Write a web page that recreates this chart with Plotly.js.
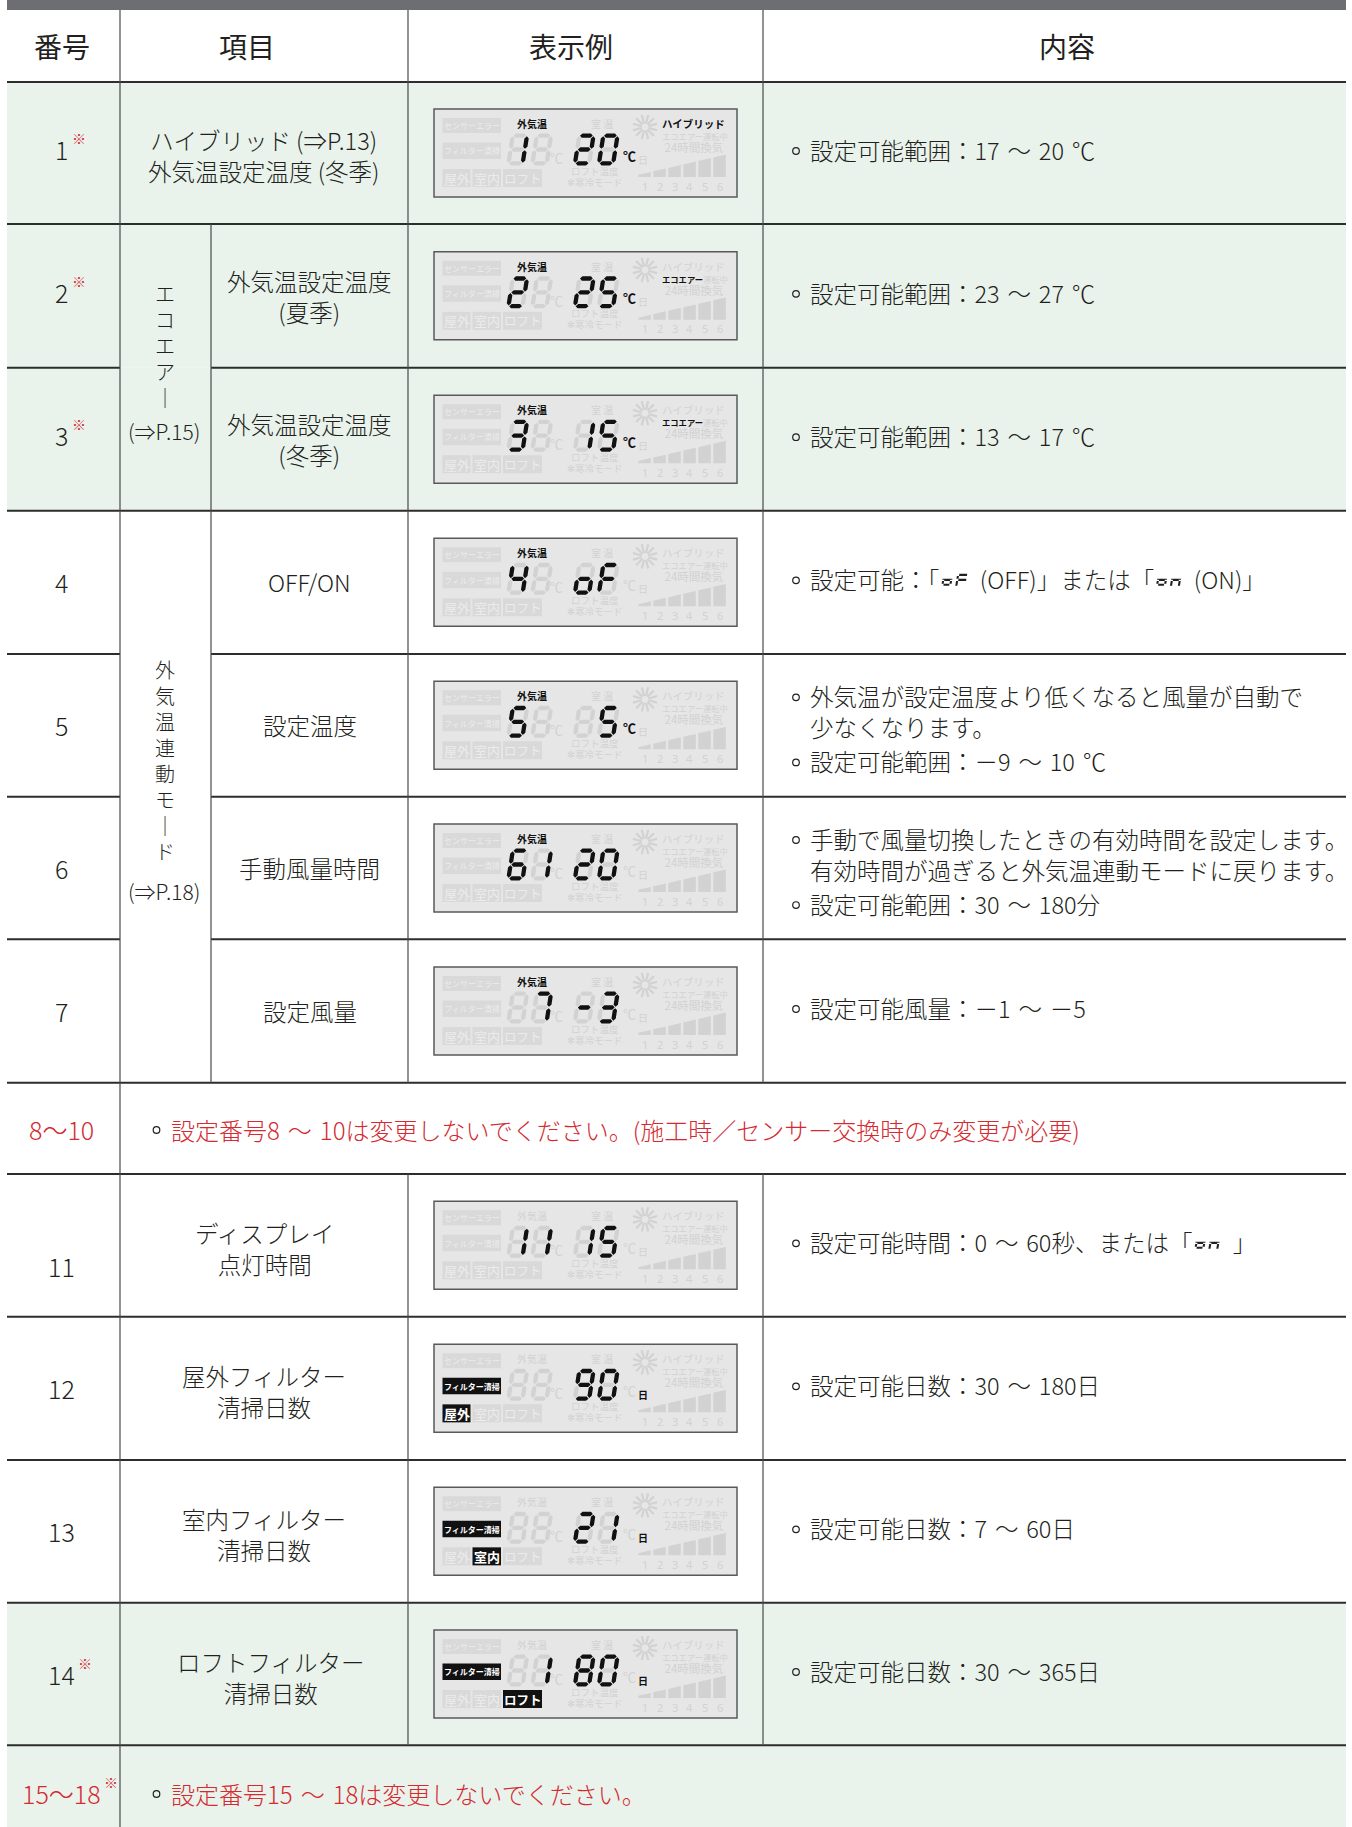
<!DOCTYPE html>
<html><head><meta charset="utf-8">
<script src="https://cdn.plot.ly/plotly-3.0.1.min.js"></script>
<style>html,body{margin:0;padding:0;background:#fff;overflow:hidden}</style>
</head><body>
<div id="chart" style="width:1352px;height:1827px"></div>
<script>
// ---------------- DATA ----------------
const headers = ['番号', '項目', '表示例', '内容'];
const rowNumbers = ['1', '2', '3', '4', '5', '6', '7', '8～10', '11', '12', '13', '14', '15～18'];
const rowNote = [1, 1, 1, 0, 0, 0, 0, 0, 0, 0, 0, 1, 1];          // ※ marks
const groupLabels = ['エコエアー', '外気温連動モード'];
const groupRefs = ['(⇒P.15)', '(⇒P.18)'];
const itemLabels = [
  ['ハイブリッド (⇒P.13)', '外気温設定温度 (冬季)'],
  ['外気温設定温度', '(夏季)'],
  ['外気温設定温度', '(冬季)'],
  ['OFF/ON'],
  ['設定温度'],
  ['手動風量時間'],
  ['設定風量'],
  null,
  ['ディスプレイ', '点灯時間'],
  ['屋外フィルター', '清掃日数'],
  ['室内フィルター', '清掃日数'],
  ['ロフトフィルター', '清掃日数'],
  null
];
const lcdDigits = ['1 20', '2 25', '3 15', '4 oF', '5  5', '6120', ' 7-3', null, '1115', '  90', '  21', ' 180', null];
const lcdUnit   = ['℃', '℃', '℃', '', '℃', '', '', null, '', '日', '日', '日', null];
const lcdOutside = [1, 1, 1, 1, 1, 1, 1, null, 0, 0, 0, 0, null];
const lcdMode   = ['ハイブリッド', 'エコエアー', 'エコエアー', '', '', '', '', null, '', '', '', '', null];
const lcdFilter = ['', '', '', '', '', '', '', null, '', '屋外', '室内', 'ロフト', null];
const lcdLabels = ['センサーエラー', 'フィルター清掃', '屋外', '室内', 'ロフト', '外気温', '室 温',
                   'ハイブリッド', 'エコエアー', '運転中', '24時間換気', 'ロフト温度', '✻寒冷モード', '℃', '日'];
const lcdLevels = ['1', '2', '3', '4', '5', '6'];
const contentBullets = [
  [['設定可能範囲：17 ～ 20 ℃']],
  [['設定可能範囲：23 ～ 27 ℃']],
  [['設定可能範囲：13 ～ 17 ℃']],
  [['設定可能：「{oF} (OFF)」または「{on} (ON)」']],
  [['外気温が設定温度より低くなると風量が自動で', '少なくなります。'], ['設定可能範囲：－9 ～ 10 ℃']],
  [['手動で風量切換したときの有効時間を設定します。', '有効時間が過ぎると外気温連動モードに戻ります。'], ['設定可能範囲：30 ～ 180分']],
  [['設定可能風量：－1 ～ －5']],
  [['設定番号8 ～ 10は変更しないでください。(施工時／センサー交換時のみ変更が必要)']],
  [['設定可能時間：0 ～ 60秒、または「{on} 」']],
  [['設定可能日数：30 ～ 180日']],
  [['設定可能日数：7 ～ 60日']],
  [['設定可能日数：30 ～ 365日']],
  [['設定番号15 ～ 18は変更しないでください。']]
];

// ---------------- LAYOUT CONFIG ----------------
const FONT = '"Noto Sans CJK JP", "Noto Sans", "DejaVu Sans", sans-serif';
const INK = '#231f20', RED = '#d42a30', GREEN = '#e9f3ec';
const HLINE = '#2d2d2d', VLINE = '#4a4a4a';
const LCD_BG = '#e6e6e6', LCD_BORDER = '#58595b', GHOST = '#d2d2d2', GHOST_BOX = '#d9d9d9', GHOST_BOX_TXT = '#ececec', ON = '#111111';
const BODY_W = 300;
const SP = '\u2004';
const TL = 7, TR = 1346;
const rowY = [82, 224, 367.7, 510.7, 654, 796.7, 939.3, 1082.7, 1174, 1316.7, 1460, 1602.7, 1745.3, 1840];
const rowKind = ['full', 'sub', 'sub', 'sub', 'sub', 'sub', 'sub', 'note', 'full', 'full', 'full', 'full', 'note'];
const rowGroup = [-1, 0, 0, 1, 1, 1, 1, -1, -1, -1, -1, -1, -1];
const greenRows = [0, 1, 2, 11, 12];
const groupCenterY = [345, 760], groupRefY = [431, 891];
const numberDy = {0: -4, 1: -4, 2: -4, 8: 21};
const itemDy = {0: -1};
const itemDx = {11: 7};

const shapes = [], annotations = [];
const cv = document.createElement('canvas').getContext('2d');
function measure(text, size, weight) {
  cv.font = (weight || 400) + ' ' + size + 'px "Noto Sans CJK JP"';
  return cv.measureText(text).width;
}
function rect(x0, y0, x1, y1, fill, lc, lw) {
  shapes.push({type: 'rect', xref: 'x', yref: 'y', x0, y0, x1, y1, fillcolor: fill,
    line: {color: lc || fill, width: lw || 0}, layer: 'above'});
}
function line(x0, y0, x1, y1, color, width) {
  shapes.push({type: 'line', xref: 'x', yref: 'y', x0, y0, x1, y1, line: {color, width}, layer: 'above'});
}
function path(d, fill, lc, lw) {
  if (!d) return;
  shapes.push({type: 'path', xref: 'x', yref: 'y', path: d, fillcolor: fill || 'rgba(0,0,0,0)',
    line: {color: lc || 'rgba(0,0,0,0)', width: lw || 0}, layer: 'above'});
}
function txt(x, y, text, size, color, o) {
  o = o || {};
  annotations.push({x, y, xref: 'x', yref: 'y', text, showarrow: false,
    xanchor: o.xanchor || 'center', yanchor: 'middle', borderpad: 0, align: o.align || 'center',
    font: {family: o.family || FONT, size, color, weight: o.weight || 400}});
}
function span(t, size, color, weight) {
  return '<span style="font-size:' + size + 'px;color:' + color + ';font-weight:' + (weight || 400) + '">' + t + '</span>';
}

// seven-segment
const SEGMAP = {'0': 'abcdef', '1': 'bc', '2': 'abdeg', '3': 'abcdg', '4': 'bcfg', '5': 'acdfg', '6': 'acdefg',
  '7': 'abc', '8': 'abcdefg', '9': 'abcdfg', 'o': 'cdeg', 'F': 'aefg', 'n': 'ceg', '-': 'g', ' ': ''};
function seg7(x0, y0, w, h, s, t, gap, square) {
  const P = (u, v) => [x0 + u + s * (1 - v / h), y0 + v];
  if (square) {
    const hs = vc => [P(0, vc - t / 2), P(w, vc - t / 2), P(w, vc + t / 2), P(0, vc + t / 2)];
    const vs = (uc, v1, v2) => [P(uc - t / 2, v1), P(uc + t / 2, v1), P(uc + t / 2, v2), P(uc - t / 2, v2)];
    return {a: hs(t / 2), g: hs(h / 2), d: hs(h - t / 2),
      f: vs(t / 2, 0, h / 2), b: vs(w - t / 2, 0, h / 2), e: vs(t / 2, h / 2, h), c: vs(w - t / 2, h / 2, h)};
  }
  const u1 = t / 2 + gap, u2 = w - t / 2 - gap;
  const hs = vc => [P(u1, vc), P(u1 + t / 2, vc - t / 2), P(u2 - t / 2, vc - t / 2), P(u2, vc), P(u2 - t / 2, vc + t / 2), P(u1 + t / 2, vc + t / 2)];
  const vs = (uc, v1, v2) => [P(uc, v1), P(uc + t / 2, v1 + t / 2), P(uc + t / 2, v2 - t / 2), P(uc, v2), P(uc - t / 2, v2 - t / 2), P(uc - t / 2, v1 + t / 2)];
  return {a: hs(t / 2), g: hs(h / 2), d: hs(h - t / 2),
    f: vs(t / 2, t / 2 + gap, h / 2 - gap), b: vs(w - t / 2, t / 2 + gap, h / 2 - gap),
    e: vs(t / 2, h / 2 + gap, h - t / 2 - gap), c: vs(w - t / 2, h / 2 + gap, h - t / 2 - gap)};
}
function poly(pts) { return 'M' + pts.map(p => p[0].toFixed(2) + ',' + p[1].toFixed(2)).join(' L') + ' Z '; }
function digit(x0, y0, w, h, s, t, gap, ch, acc, square) {
  const segs = seg7(x0, y0, w, h, s, t, gap, square), on = SEGMAP[ch] || '';
  for (const k of 'abcdefg') {
    if (on.indexOf(k) >= 0) acc.on += poly(segs[k]);
    else acc.off += poly(segs[k]);
  }
}

// ---------------- TABLE BACKGROUND ----------------
rect(TL, 0, TR, 10, '#6d6e71');
for (const r of greenRows) rect(TL, rowY[r], TR, Math.min(rowY[r + 1], 1827), GREEN);

line(TL, rowY[0], TR, rowY[0], HLINE, 2.2);
for (let k = 1; k < rowY.length - 1; k++) {
  if (rowGroup[k - 1] >= 0 && rowGroup[k - 1] === rowGroup[k]) {
    line(TL, rowY[k], 120, rowY[k], HLINE, 2);
    line(211, rowY[k], TR, rowY[k], HLINE, 2);
  } else line(TL, rowY[k], TR, rowY[k], HLINE, 2);
}
line(120, 10, 120, 1827, VLINE, 1.2);
line(211, rowY[1], 211, rowY[7], VLINE, 1.2);
for (const x of [408, 763]) {
  line(x, 10, x, rowY[7], VLINE, 1.2);
  line(x, rowY[8], x, rowY[12], VLINE, 1.2);
}

// ---------------- HEADER ----------------
const headX = [62, 247, 571, 1067];
headers.forEach((h, i) => txt(headX[i], 46, h, 28, INK, {weight: 400}));

// ---------------- GROUP (vertical) LABELS ----------------
groupLabels.forEach((g, gi) => {
  const vert = [...g].map(ch => ch === 'ー' ? '｜' : ch).join('<br>');
  txt(165, groupCenterY[gi], vert, 20, INK, {weight: BODY_W});
  txt(164, groupRefY[gi], groupRefs[gi], 21, INK, {weight: BODY_W});
});

// ---------------- ROWS ----------------
const contentOn = {on: '', off: ''};
function richLine(x, y, ln, size, color) {
  const parts = ln.split(/(\{[^}]+\})/).filter(p => p.length);
  let cur = x;
  for (const p of parts) {
    if (p[0] === '{') {
      let gx = cur + 3;
      for (const ch of p.slice(1, -1)) { digit(gx, y - 5.5, 10, 12, 2, 2.1, 0, ch, contentOn, true); gx += 14; }
      cur = gx + 1.5;
    } else {
      const t = p.replace(/ /g, SP);
      txt(cur, y, t, size, color, {xanchor: 'left', weight: BODY_W});
      cur += measure(t, size, BODY_W);
    }
  }
}

const LCD_ROWS = [];
rowNumbers.forEach((num, i) => {
  const cy = (rowY[i] + rowY[i + 1]) / 2;
  const kind = rowKind[i];
  const isNote = kind === 'note';
  const numColor = isNote ? RED : INK;
  let ny = isNote ? (i === 12 ? 1793 : 1129) : cy;
  ny += numberDy[i] || 0;
  txt(61, ny, num, 25, numColor, {weight: BODY_W});
  if (rowNote[i]) {
    const w = measure(num, 25, BODY_W);
    txt(61 + w / 2 + 3, ny - 11, '※', 14, RED, {xanchor: 'left', weight: 400});
  }
  const it = itemLabels[i];
  if (it) {
    const ix = (kind === 'full' ? 264 : 309.5) + (itemDx[i] || 0);
    const off = (it.length > 1 ? (kind === 'full' ? 3 : 0.5) : 0) + (itemDy[i] || 0);
    txt(ix, cy + off, it.join('<br>'), 23.5, INK, {weight: BODY_W});
  }
  const bullets = contentBullets[i];
  const bx = isNote ? 156.5 : 796, tx = isNote ? 170 : 809;
  const size = isNote ? 24 : 23.5;
  const color = isNote ? RED : INK;
  const LS = 1.3 * size, BS = 34.5;
  const starts = [];
  let yy = 0;
  bullets.forEach((b, bi) => {
    if (bi > 0) yy += BS;
    starts.push(yy);
    yy += (b.length - 1) * LS;
  });
  const total = yy;
  const base = isNote ? ny : cy + (total > 0 ? 3.5 : -3) - total / 2;
  bullets.forEach((b, bi) => {
    const ly = base + starts[bi];
    shapes.push({type: 'circle', xref: 'x', yref: 'y', x0: bx - 3.3, x1: bx + 3.3, y0: ly - 2.3, y1: ly + 4.3,
      line: {color: INK, width: 1.2}, fillcolor: 'rgba(0,0,0,0)', layer: 'above'});
    if (b.length === 1) richLine(tx, ly, b[0], size, color);
    else txt(tx, ly + (b.length - 1) * LS / 2, b.map(s => s.replace(/ /g, SP)).join('<br>'), size, color,
      {xanchor: 'left', align: 'left', weight: BODY_W});
  });
  if (lcdDigits[i] != null) LCD_ROWS.push([cy, i]);
});
path(contentOn.on, INK);

// ---------------- LCD ----------------
function drawLCD(cx, cy, i) {
  const L = cx - 151.5, T = cy - 44;
  const X = r => L + r, Y = r => T + r;
  rect(L, T, L + 303, T + 88, LCD_BG, LCD_BORDER, 1.5);
  const filt = lcdFilter[i];
  const boxes = [
    [lcdLabels[0], 8.5, 67, 9, 24, 8, false],
    [lcdLabels[1], 8.5, 67, 33.5, 50, 8, !!filt],
    [lcdLabels[2], 8.5, 36.5, 60, 78, 13, filt === lcdLabels[2]],
    [lcdLabels[3], 38.5, 67, 60, 78, 13, filt === lcdLabels[3]],
    [lcdLabels[4], 69, 108, 60, 78, 12.5, filt === lcdLabels[4]]
  ];
  for (const b of boxes) {
    rect(X(b[1]), Y(b[3]), X(b[2]), Y(b[4]), b[6] ? ON : GHOST_BOX);
    txt(X((b[1] + b[2]) / 2), Y((b[3] + b[4]) / 2), b[0], b[5], b[6] ? '#ffffff' : GHOST_BOX_TXT, {weight: b[6] ? 700 : 400});
  }
  const on = (flag) => flag ? {c: ON, w: 700} : {c: GHOST, w: 400};
  let s = on(lcdOutside[i] === 1);
  txt(X(98), Y(14.5), lcdLabels[5], 10, s.c, {weight: s.w});
  txt(X(168), Y(14.5), lcdLabels[6], 10, GHOST);
  const sH = on(lcdMode[i] === lcdLabels[7]), sE = on(lcdMode[i] === lcdLabels[8]);
  const stack = span(lcdLabels[7], 10.5, sH.c, sH.w) + '<br>' +
    span(lcdLabels[8], 8.3, sE.c, sE.w) + span(lcdLabels[9], 8.3, GHOST, 400) + '<br>' +
    span('\u00a0' + lcdLabels[10], 11.5, GHOST, 400);
  txt(X(226.5), Y(26.3), stack, 9.2, GHOST, {xanchor: 'left', align: 'left'});
  txt(X(160), Y(67), span(lcdLabels[11], 9.5, GHOST) + '<br>' + span(lcdLabels[12], 9.5, GHOST), 8.5, GHOST);
  txt(X(122), Y(48.5), lcdLabels[13], 13, GHOST);
  s = on(lcdUnit[i] === '℃');
  txt(X(195.5), Y(46), lcdLabels[13], 13, s.c, {weight: s.w});
  s = on(lcdUnit[i] === '日');
  txt(X(208.5), Y(50), lcdLabels[14], 10, s.c, {weight: s.w});
  let sd = '';
  for (let k = 0; k < 12; k++) {
    const a = k * Math.PI / 6 + Math.PI / 12;
    sd += 'M' + (X(211) + 3.5 * Math.cos(a)).toFixed(2) + ',' + (Y(18) + 3.5 * Math.sin(a)).toFixed(2) +
      ' L' + (X(211) + 12.5 * Math.cos(a)).toFixed(2) + ',' + (Y(18) + 12.5 * Math.sin(a)).toFixed(2) + ' ';
  }
  path(sd, null, GHOST, 2.2);
  let bd = '';
  const top = x => 65.8 - (x - 204.3) * (20.3 / 88);
  lcdLevels.forEach((lv, k) => {
    const x1 = 204.3 + 15 * k, x2 = x1 + 12.5;
    bd += 'M' + X(x1) + ',' + Y(68) + ' L' + X(x1) + ',' + Y(top(x1)) + ' L' + X(x2) + ',' + Y(top(x2)) + ' L' + X(x2) + ',' + Y(68) + ' Z ';
    txt(X(x1 + 6.25), Y(77), lv, 11, GHOST, {family: '"Noto Sans", sans-serif'});
  });
  path(bd, GHOST);
  const acc = {on: '', off: ''};
  const px = [72, 96, 138.5, 162.5];
  [...lcdDigits[i]].forEach((ch, k) => digit(X(px[k]), Y(24.5), 18.5, 32, 5, 4.3, 0.7, ch, acc));
  path(acc.off, GHOST);
  path(acc.on, ON);
}
LCD_ROWS.forEach(([cy, i]) => drawLCD(585.5, cy, i));

// ---------------- PLOT ----------------
const layout = {
  width: 1352, height: 1827, margin: {l: 0, r: 0, t: 0, b: 0},
  paper_bgcolor: '#ffffff', plot_bgcolor: '#ffffff', showlegend: false,
  xaxis: {range: [0, 1352], visible: false, fixedrange: true},
  yaxis: {range: [1827, 0], visible: false, fixedrange: true},
  shapes, annotations
};
Plotly.newPlot('chart', [{type: 'scatter', x: [0], y: [0], mode: 'markers', marker: {opacity: 0}, hoverinfo: 'skip'}], layout, {displayModeBar: false, staticPlot: true});
</script>
</body></html>
